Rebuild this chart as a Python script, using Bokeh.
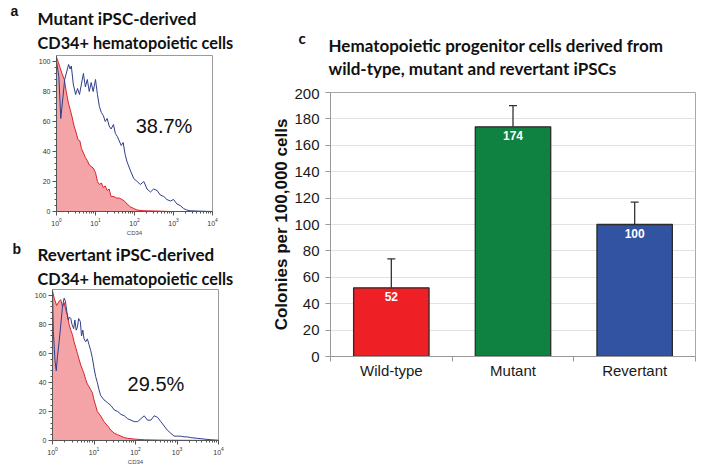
from bokeh.plotting import figure
from bokeh.models import (Label, Range1d, FixedTicker, ColumnDataSource, Whisker, TeeHead)
from bokeh.layouts import row, column
from bokeh.embed import file_html
from bokeh.resources import INLINE
from bokeh.core.properties import value

# ---------------- data ----------------
# Panel a: mutant iPSC-derived cells, CD34 (log10 fluorescence) vs % of max
mut_iso_log = [0.00, 0.04, 0.09, 0.14, 0.20, 0.25, 0.30, 0.35, 0.40, 0.45, 0.50, 0.55, 0.60, 0.64,
               0.69, 0.74, 0.79, 0.84, 0.89, 0.94, 1.00, 1.05, 1.10, 1.15, 1.20, 1.25, 1.30, 1.35,
               1.40, 1.47, 1.54, 1.61, 1.68, 1.74, 1.81, 1.90, 1.98, 2.07, 2.24, 2.58, 2.92, 4.00]
mut_iso_cnt = [103, 100, 96, 92, 88, 80, 73, 68, 63, 57, 53, 48, 47, 42,
               39, 36, 34, 31, 30, 29, 26, 20, 18, 19, 16, 17, 14, 15,
               10, 10, 9, 9, 8, 7, 5, 3, 2, 1, 0.5, 0.3, 0, 0]
mut_cd34_log = [0.00, 0.06, 0.11, 0.16, 0.21, 0.26, 0.31, 0.35, 0.38, 0.43, 0.49, 0.54, 0.59, 0.64,
                0.69, 0.74, 0.79, 0.84, 0.89, 0.94, 1.00, 1.05, 1.10, 1.15, 1.20, 1.25, 1.30, 1.35,
                1.40, 1.46, 1.51, 1.56, 1.61, 1.66, 1.71, 1.76, 1.81, 1.90, 1.98, 2.07, 2.15, 2.24,
                2.32, 2.41, 2.49, 2.58, 2.66, 2.75, 2.83, 2.92, 3.00, 3.09, 3.17, 3.26, 3.34, 3.43,
                3.60, 4.00]
mut_cd34_cnt = [100, 90, 62, 75, 88, 93, 98, 95, 97, 85, 78, 82, 78, 85,
                92, 83, 88, 80, 86, 80, 88, 78, 70, 66, 64, 60, 62, 57,
                55, 58, 52, 50, 47, 44, 46, 38, 33, 27, 22, 20, 18, 20,
                15, 13, 15, 14, 11, 10, 8, 7, 8, 5, 4, 2, 1, 0.5,
                0.3, 0]
mut_pct = "38.7%"

# Panel b: revertant iPSC-derived cells
rev_iso_log = [0.00, 0.04, 0.10, 0.16, 0.20, 0.24, 0.28, 0.32, 0.36, 0.40, 0.44, 0.48, 0.52, 0.56,
               0.60, 0.64, 0.68, 0.72, 0.76, 0.80, 0.84, 0.88, 0.92, 0.96, 1.00, 1.04, 1.08, 1.16,
               1.24, 1.33, 1.41, 1.49, 1.57, 1.65, 1.73, 1.81, 1.97, 2.21, 2.53, 2.85, 4.00]
rev_iso_cnt = [103, 98, 93, 96, 97, 92, 95, 90, 86, 80, 76, 73, 68, 64,
               60, 56, 52, 49, 46, 42, 39, 37, 35, 33, 28, 24, 20, 17,
               13, 10, 7, 5, 4, 3, 2, 1.5, 1, 0.5, 0.3, 0.2, 0]
rev_cd34_log = [0.00, 0.02, 0.06, 0.09, 0.12, 0.16, 0.20, 0.24, 0.28, 0.31, 0.35, 0.38, 0.41, 0.44,
                0.47, 0.51, 0.54, 0.57, 0.60, 0.63, 0.67, 0.70, 0.73, 0.76, 0.80, 0.84, 0.88, 0.92,
                0.96, 1.00, 1.04, 1.08, 1.12, 1.16, 1.24, 1.33, 1.41, 1.49, 1.57, 1.65, 1.73, 1.81,
                1.89, 1.97, 2.05, 2.13, 2.21, 2.29, 2.37, 2.45, 2.53, 2.61, 2.69, 2.77, 2.85, 2.93,
                3.01, 3.09, 3.17, 3.25, 3.33, 3.49, 3.65, 3.82, 4.00]
rev_cd34_cnt = [103, 75, 55, 48, 58, 68, 80, 92, 98, 96, 88, 83, 85, 84,
                80, 77, 83, 76, 78, 84, 82, 72, 76, 70, 68, 70, 66, 62,
                57, 50, 44, 40, 35, 31, 28, 26, 24, 21, 20, 18, 17, 15,
                14, 13, 13, 15, 17, 14, 14, 17, 16, 13, 10, 7, 5, 3,
                3, 3, 2.5, 2.5, 2, 1.5, 1, 0.5, 0.2]
rev_pct = "29.5%"

hist_y_ticks = [0, 20, 40, 60, 80, 100]

# Panel c: colony counts
groups = ["Wild-type", "Mutant", "Revertant"]
colonies = [52, 174, 100]
colony_err = [22, 16, 17]
colony_ticks = [0, 20, 40, 60, 80, 100, 120, 140, 160, 180, 200]

# ---------------- styles ----------------
ISO_FILL = "#F4A3A7"
ISO_LINE = "#D9242B"
CD34_LINE = "#2F3E8C"
BAR_COLORS = ["#EE1F25", "#0F8140", "#3252A2"]
TITLE_FONT = "Lato"
TITLE_SIZE = "17px"
SUB_SIZE = "16.3px"
AX_FONT = "Liberation Sans"


def add_label(fig, x, y, text, size, bold=True, font=TITLE_FONT, color="#111111"):
    fig.add_layout(Label(x=x, y=y, text=text,
                         text_font=font, text_font_size=size,
                         text_font_style="bold" if bold else "normal",
                         text_color=color, text_baseline="alphabetic"))


def header_fig(W, H):
    h = figure(width=W, height=H, x_range=Range1d(0, W), y_range=Range1d(0, H),
               title=None, output_backend="svg", toolbar_location=None, frame_align=False,
               min_border=0, x_axis_location=None, y_axis_location=None)
    h.grid.visible = False
    h.outline_line_color = None
    h.background_fill_color = "white"
    h.border_fill_color = "white"
    return h


def hist_fig(W, H, bl, br, bt, bb, iso_log, iso_cnt, cd_log, cd_cnt):
    f = figure(width=W, height=H, x_axis_type="log", x_range=Range1d(1, 10000),
               y_range=Range1d(0, 104), title=None, output_backend="svg",
               toolbar_location=None, frame_align=False,
               min_border_left=bl, min_border_right=br, min_border_top=bt, min_border_bottom=bb)
    f.grid.visible = False
    f.outline_line_color = "#9a9a9a"
    f.background_fill_color = "white"
    f.border_fill_color = "white"
    iso_x = [10 ** v for v in iso_log]
    cd_x = [10 ** v for v in cd_log]
    f.varea(x=iso_x, y1=[0] * len(iso_x), y2=iso_cnt, fill_color=ISO_FILL)
    f.line(iso_x, iso_cnt, line_color=ISO_LINE, line_width=1)
    f.line(cd_x, cd_cnt, line_color=CD34_LINE, line_width=1)
    f.yaxis.ticker = FixedTicker(ticks=hist_y_ticks, minor_ticks=list(range(0, 104, 4)))
    for ax in (f.xaxis, f.yaxis):
        ax.major_label_text_font = AX_FONT
        ax.major_label_text_font_size = "7px"
        ax.major_label_text_color = "#333333"
        ax.axis_line_color = "#555555"
        ax.major_tick_line_color = "#555555"
        ax.minor_tick_line_color = "#555555"
        ax.major_tick_in = 0
        ax.major_tick_out = 4
        ax.minor_tick_in = 0
        ax.minor_tick_out = 2
        ax.major_label_standoff = 2
    f.xaxis.axis_label = "CD34"
    f.xaxis.axis_label_text_font = AX_FONT
    f.xaxis.axis_label_text_font_size = "6px"
    f.xaxis.axis_label_text_font_style = "normal"
    f.xaxis.axis_label_standoff = 1
    return f


# ---------------- panel a ----------------
ha = header_fig(240, 54)
add_label(ha, 10, 44, "a", "14px", font=AX_FONT)
add_label(ha, 37, 36.5, "Mutant iPSC-derived", TITLE_SIZE)
add_label(ha, 37, 12.5, "CD34+ hematopoietic cells", SUB_SIZE)

fa = hist_fig(240, 184, 56, 28, 1, 27, mut_iso_log, mut_iso_cnt, mut_cd34_log, mut_cd34_cnt)
add_label(fa, 10 ** 2.03, 57, mut_pct, "20px", bold=False, font=AX_FONT)

# ---------------- panel b ----------------
hb = header_fig(240, 50)
add_label(hb, 12, 40, "b", "14px", font=AX_FONT)
add_label(hb, 37, 34.2, "Revertant iPSC-derived", TITLE_SIZE)
add_label(hb, 37, 10.2, "CD34+ hematopoietic cells", SUB_SIZE)

fb = hist_fig(240, 179, 52, 22, 1, 23, rev_iso_log, rev_iso_cnt, rev_cd34_log, rev_cd34_cnt)
add_label(fb, 10 ** 1.81, 39, rev_pct, "20px", bold=False, font=AX_FONT)

# ---------------- panel c ----------------
hc = header_fig(456, 88)
add_label(hc, 58, 50.5, "c", "15px")
add_label(hc, 88, 42.8, "Hematopoietic progenitor cells derived from", TITLE_SIZE)
add_label(hc, 88, 20.2, "wild-type, mutant and revertant iPSCs", TITLE_SIZE)

group_pos = [i + 0.5 for i in range(len(groups))]
src = ColumnDataSource(dict(
    x=group_pos,
    val=colonies,
    upper=[v + e for v, e in zip(colonies, colony_err)],
    lab=[str(v) for v in colonies],
    col=BAR_COLORS,
))

fc = figure(width=456, height=379, x_range=Range1d(0, len(groups)), y_range=Range1d(0, 200),
            title=None, output_backend="svg", toolbar_location=None, frame_align=False,
            min_border_left=90, min_border_right=1, min_border_top=4, min_border_bottom=111)
fc.outline_line_color = "#A8A8A8"
fc.xgrid.visible = False
fc.ygrid.grid_line_color = "#E2E2E2"
fc.ygrid.ticker = FixedTicker(ticks=colony_ticks)
fc.background_fill_color = "white"
fc.border_fill_color = "white"

fc.vbar(x="x", top="val", width=0.62, source=src, fill_color="col",
        line_color="#2B2B2B", line_width=1.3)
fc.add_layout(Whisker(base="x", upper="upper", lower="val", source=src,
                      line_color="#333333", line_width=1.3,
                      upper_head=TeeHead(size=8, line_color="#333333", line_width=1.3),
                      lower_head=None))
fc.text(x="x", y="val", text="lab", source=src, y_offset=9,
        text_align="center", text_baseline="middle", text_color="white",
        text_font=value(AX_FONT), text_font_style="bold", text_font_size="12px")

xa = fc.xaxis[0]
xa.ticker = FixedTicker(ticks=group_pos, minor_ticks=list(range(len(groups) + 1)))
xa.major_label_overrides = {p: g for p, g in zip(group_pos, groups)}
xa.axis_line_color = "#999999"
xa.minor_tick_line_color = "#999999"
xa.minor_tick_in = 0
xa.minor_tick_out = 5
xa.major_tick_line_color = None
xa.major_tick_in = 0
xa.major_tick_out = 0
xa.major_label_text_font = AX_FONT
xa.major_label_text_font_size = "15px"
xa.major_label_text_color = "#1a1a1a"
xa.major_label_standoff = 0

fc.yaxis.ticker = FixedTicker(ticks=colony_ticks)
fc.yaxis.minor_tick_line_color = None
fc.yaxis.axis_line_color = "#999999"
fc.yaxis.major_tick_line_color = "#999999"
fc.yaxis.major_tick_in = 0
fc.yaxis.major_tick_out = 5
fc.yaxis.major_label_standoff = 6
fc.yaxis.major_label_text_font = AX_FONT
fc.yaxis.major_label_text_font_size = "15px"
fc.yaxis.major_label_text_color = "#1a1a1a"
fc.yaxis.axis_label = "Colonies per 100,000 cells"
fc.yaxis.axis_label_text_font = AX_FONT
fc.yaxis.axis_label_text_font_size = "17px"
fc.yaxis.axis_label_text_font_style = "bold"
fc.yaxis.axis_label_text_color = "#111111"
fc.yaxis.axis_label_standoff = 0

layout = row(column(ha, fa, hb, fb), column(hc, fc))
open("out.html", "w").write(file_html(layout, INLINE))
